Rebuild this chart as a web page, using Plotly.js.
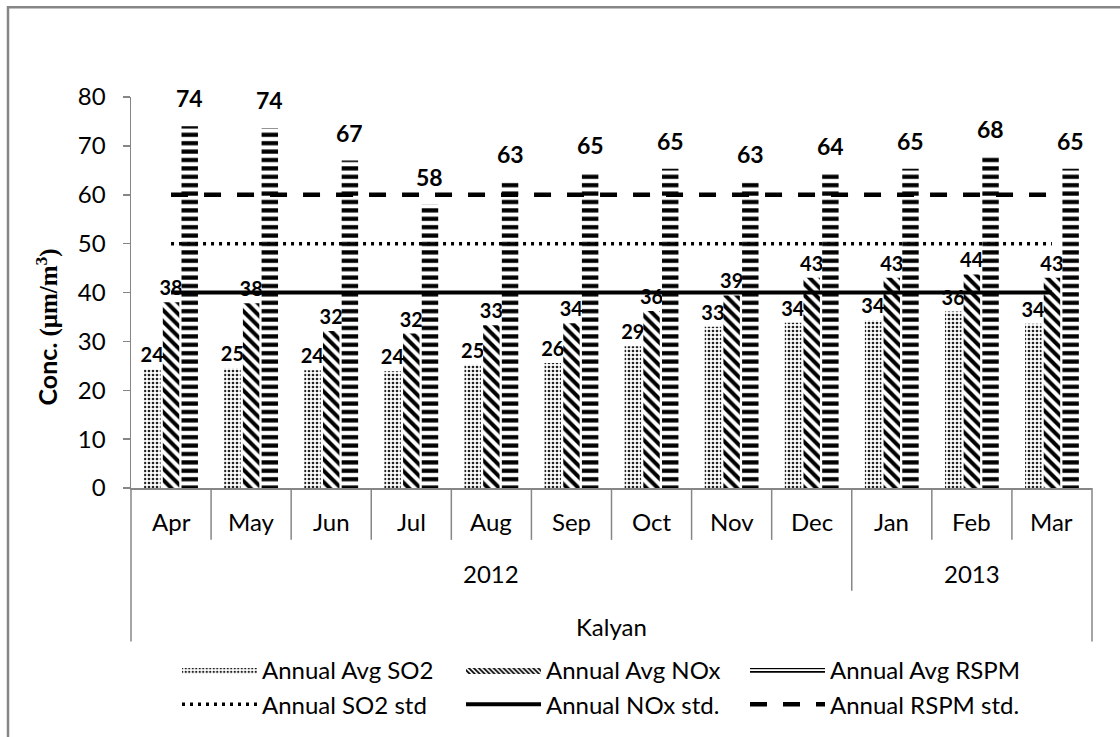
<!DOCTYPE html>
<html>
<head>
<meta charset="utf-8">
<script src="https://cdn.plot.ly/plotly-3.0.1.min.js"></script>
<style>html,body{margin:0;padding:0;background:#fff;}#chart{width:1120px;height:737px;}</style>
</head>
<body>
<div id="chart"></div>
<script>
// ---- data ----
const months = ['Apr','May','Jun','Jul','Aug','Sep','Oct','Nov','Dec','Jan','Feb','Mar'];
const so2Avg  = [24.3, 24.5, 24.1, 23.9, 25.2, 25.6, 29.0, 33.0, 33.8, 34.3, 36.1, 33.6];
const noxAvg  = [38.0, 37.8, 32.1, 31.6, 33.3, 33.7, 36.2, 39.4, 43.0, 43.0, 43.7, 43.0];
const rspmAvg = [74.0, 73.6, 67.0, 58.0, 62.7, 64.5, 65.3, 62.6, 64.3, 65.3, 67.8, 65.3];
const so2Std  = [50, 50, 50, 50, 50, 50, 50, 50, 50, 50, 50, 50];
const noxStd  = [40, 40, 40, 40, 40, 40, 40, 40, 40, 40, 40, 40];
const rspmStd = [60, 60, 60, 60, 60, 60, 60, 60, 60, 60, 60, 60];
const years = ['2012', '2013'];
const yearFirst = [0, 9];   // index of first month of each year group
const yearLast  = [8, 11];  // index of last month of each year group
const station = 'Kalyan';
const yTicks = [0, 10, 20, 30, 40, 50, 60, 70, 80];
const yTitle = '<b>Conc. </b><span style="font-family:\'Liberation Serif\', serif"><b>(μm/m<sup>3</sup>)</b></span>';

// ---- styling helpers ----
const FONT = 'Lato, Carlito, "Open Sans", sans-serif';
const GREY = '#868686';
const plotTop = 97, plotBottom = 489, plotH = plotBottom - plotTop;
const py = p => (plotBottom - p) / plotH;           // pixel row -> paper y
const pxL = 131, pxR = 1092, plotW = pxR - pxL;
const pxX = p => (p - pxL) / plotW;                   // pixel col -> paper x

const patSO2  = {shape: '.',  size: 4,   solidity: 0.35, fgcolor: '#222', bgcolor: '#ffffff', fillmode: 'replace'};
const patNOx  = {shape: '\\', size: 8,   solidity: 0.5,  fgcolor: '#000', bgcolor: '#ffffff', fillmode: 'replace'};
const patRSPM = {shape: '-',  size: 8.4, solidity: 0.5,  fgcolor: '#000', bgcolor: '#ffffff', fillmode: 'replace'};

function barTrace(name, vals, pattern, showText) {
  return {
    type: 'bar', name: name, x: months, y: vals, showlegend: false, legendgroup: name,
    marker: {color: '#ffffff', line: {width: 0}, pattern: pattern},
    text: showText ? vals.map(v => String(Math.round(v))) : undefined,
    textposition: showText ? 'outside' : 'none',
    textfont: {family: FONT, size: 20, color: '#000', weight: 'bold'},
    constraintext: 'none', cliponaxis: false, hoverinfo: 'skip'
  };
}
// legend swatch for a bar series (wide patterned rectangle like the original legend); draws nothing in the plot
function swatchTrace(name, pattern, rank) {
  return {type: 'scatter', mode: 'lines', name: name, x: [months[0]], y: [null], fill: 'toself',
          fillcolor: '#ffffff', fillpattern: Object.assign({}, pattern, {size: Math.min(pattern.size, 3.5)}),
          line: {width: 0, color: 'rgba(0,0,0,0)'}, legendgroup: name, legendrank: rank, hoverinfo: 'skip'};
}
function lineTrace(name, vals, dash, width, rank) {
  return {type: 'scatter', mode: 'lines', name: name, x: months, y: vals, legendrank: rank,
          line: {color: '#000', width: width, dash: dash}, hoverinfo: 'skip'};
}

const traces = [
  barTrace('Annual Avg SO2', so2Avg, patSO2, true),
  barTrace('Annual Avg NOx', noxAvg, patNOx, true),
  barTrace('Annual Avg RSPM', rspmAvg, patRSPM, false),
  swatchTrace('Annual Avg SO2', patSO2, 1),
  swatchTrace('Annual Avg NOx', patNOx, 2),
  swatchTrace('Annual Avg RSPM', patRSPM, 3),
  lineTrace('Annual SO2 std', so2Std, '3px,5px', 3.5, 4),
  lineTrace('Annual NOx std.', noxStd, 'solid', 4, 5),
  lineTrace('Annual RSPM std.', rspmStd, '17px,16px', 4.5, 6)
];

// ---- annotations: RSPM labels, month/year/station axis labels, y title ----
const annotations = [];
rspmAvg.forEach((v, i) => {
  annotations.push({x: months[i], y: v, xref: 'x', yref: 'y', text: String(Math.round(v)),
    showarrow: false, xshift: 18.7, yshift: 12, yanchor: 'bottom', xanchor: 'center',
    font: {family: FONT, size: 23, color: '#000', weight: 'bold'}});
});
months.forEach(m => {
  annotations.push({x: m, y: py(523), xref: 'x', yref: 'paper', text: m, showarrow: false,
    yanchor: 'middle', font: {family: FONT, size: 24, color: '#000'}});
});
years.forEach((yr, k) => {
  annotations.push({x: (yearFirst[k] + yearLast[k]) / 2, y: py(575), xref: 'x', yref: 'paper', text: yr,
    showarrow: false, yanchor: 'middle', font: {family: FONT, size: 24, color: '#000'}});
});
annotations.push({x: (months.length - 1) / 2, y: py(628), xref: 'x', yref: 'paper', text: station,
  showarrow: false, yanchor: 'middle', font: {family: FONT, size: 24, color: '#000'}});
annotations.push({x: pxX(47), y: py(328), xref: 'paper', yref: 'paper', text: yTitle, textangle: -90,
  showarrow: false, xanchor: 'center', yanchor: 'middle', font: {family: FONT, size: 25, color: '#000'}});

// ---- shapes: hierarchical axis dividers + chart border ----
const shapes = [];
for (let i = 0; i < months.length - 1; i++) {
  const isYearBreak = yearLast.includes(i);
  shapes.push({type: 'line', xref: 'x', yref: 'paper', x0: i + 0.5, x1: i + 0.5,
    y0: 0, y1: isYearBreak ? py(592) : py(541), line: {color: GREY, width: 1.5}});
}
[0, 1].forEach(xp => shapes.push({type: 'line', xref: 'paper', yref: 'paper', x0: xp, x1: xp,
  y0: 0, y1: py(643), line: {color: GREY, width: 1.5}}));
shapes.push({type: 'rect', xref: 'paper', yref: 'paper', x0: pxX(8), x1: pxX(1135), y0: py(7), y1: py(760),
  line: {color: GREY, width: 2.5}, fillcolor: 'rgba(0,0,0,0)'});

const layout = {
  width: 1120, height: 737,
  margin: {l: pxL, r: 1120 - pxR, t: plotTop, b: 737 - plotBottom},
  paper_bgcolor: '#fff', plot_bgcolor: '#fff',
  barmode: 'group', bargap: 0.3, bargroupgap: 0.12,
  font: {family: FONT, color: '#000'},
  showlegend: true,
  legend: {orientation: 'h', x: pxX(177), xanchor: 'left', y: py(648), yanchor: 'top',
           font: {family: FONT, size: 24, color: '#000'}, itemwidth: 75, entrywidth: 194,
           traceorder: 'normal', bgcolor: 'rgba(0,0,0,0)', tracegroupgap: 0},
  xaxis: {type: 'category', showline: true, linecolor: GREY, linewidth: 1.5, ticks: '',
          showticklabels: false, showgrid: false, zeroline: false, range: [-0.5, 11.5], fixedrange: true},
  yaxis: {range: [0, 80], tickvals: yTicks, ticktext: yTicks.map(String), showline: true, linecolor: GREY,
          linewidth: 1.5, ticks: 'outside', ticklen: 7, tickcolor: GREY, tickwidth: 1.5,
          showgrid: false, zeroline: false, ticklabelstandoff: 12,
          tickfont: {family: FONT, size: 24, color: '#000'}},
  annotations: annotations,
  shapes: shapes
};

Plotly.newPlot('chart', traces, layout, {staticPlot: true, displayModeBar: false});
</script>
</body>
</html>
